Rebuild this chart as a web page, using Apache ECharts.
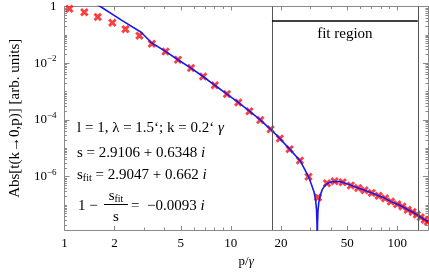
<!DOCTYPE html>
<html><head><meta charset="utf-8">
<style>html,body{margin:0;padding:0;background:#fff;}#c{width:429px;height:273px;}</style>
<script src="https://cdn.jsdelivr.net/npm/echarts@6/dist/echarts.min.js"></script>
</head><body><div id="c"></div><script>
// ---- data ----
const crossP = [1.07,1.316,1.585,1.94,2.326,2.822,3.35,4.05,4.81,5.76,6.81,8.01,9.47,11.08,12.93,15.02,17.33,19.68,22.54,26.0,29.27,33.4,37.8,42.0,47.0,52.6,58.2,63.6,70.3,77.3,84.5,91.6,100,107.4,115.5,123.6,131.1,138.4,146.1,152.5];
const crossV = [0.834,0.623,0.43,0.268,0.159,0.0937,0.0486,0.0259,0.0133,6.76e-3,3.4e-3,1.67e-3,8.2e-4,4.14e-4,2.03e-4,1.0e-4,4.68e-5,2.23e-5,9.35e-6,3.74e-6,1.0e-6,1.86e-7,5.9e-7,6.9e-7,6.4e-7,4.9e-7,3.98e-7,3.32e-7,2.68e-7,2.11e-7,1.72e-7,1.32e-7,1.07e-7,8.87e-8,6.84e-8,5.7e-8,4.6e-8,3.72e-8,3.03e-8,2.59e-8];
const lineP = [1.45,1.642,2.2,2.888,3.35,4.05,4.81,5.76,6.81,8.01,9.47,11.08,12.93,15.02,17.33,19.68,22.54,26.0,29.3,30.5,31.6,32.3,32.7,32.95,33.05,33.15,33.4,33.8,34.6,35.4,36.2,37.5,38.8,40.5,42.4,44.8,47.5,53.1,58.2,63.6,70.3,77.3,84.5,91.6,100,107.4,115.5,123.6,131.1,138.4,146.1,153.4];
const lineV = [1.5,1.0,0.331,0.1235,0.0518,0.0262,0.0133,6.76e-3,3.4e-3,1.67e-3,8.2e-4,4.14e-4,2.03e-4,1.0e-4,4.68e-5,2.23e-5,9.35e-6,3.74e-6,1.0e-6,5.3e-7,2.9e-7,1.5e-7,7e-8,2e-8,1e-11,2e-8,6.5e-8,1.3e-7,2.4e-7,3.5e-7,4.3e-7,5.4e-7,6.1e-7,6.6e-7,6.8e-7,6.7e-7,6.2e-7,4.9e-7,4.0e-7,3.32e-7,2.68e-7,2.11e-7,1.72e-7,1.32e-7,1.07e-7,8.87e-8,6.84e-8,5.7e-8,4.6e-8,3.72e-8,3.03e-8,2.59e-8];
const xTickLabels = [1,2,5,10,20,50,100];
const xMinorTicks = [3,4,6,7,8,9,30,40,60,70,80,90];
const yTickLabels = [1,1e-2,1e-4,1e-6];
const yDecades = [-8,-7,-6,-5,-4,-3,-2,-1];
const yMantissas = [1,2,3,4,5,6,7,8,9];
const fitRange = [17.65,132.8];
const fitBarLevel = 0.3076;
const xRange = [1,153];
const yRange = [Math.pow(10,-7.88),1];

// ---- chart ----
const FONT = 'Liberation Serif';
const AX = '#8a8a8a';
const L = Math.log10;
const yMinorLog = [];
yDecades.forEach(k => yMantissas.forEach(n => { const v = L(n) + k; if (v >= L(yRange[0]) && v <= 0 && !yTickLabels.map(L).some(t => Math.abs(t - v) < 1e-9)) yMinorLog.push(v); }));

function xOverlay(pos, ticks, len, labels, line) {
  return {type:'value', position:pos, gridIndex:0, min:L(xRange[0]), max:L(xRange[1]),
    axisLine:{show:line, onZero:false, lineStyle:{color:AX, width:1}},
    axisTick:{show:true, inside:true, length:len, customValues:ticks, lineStyle:{color:AX, width:1}},
    axisLabel: labels ? {show:true, customValues:ticks, margin:7, color:'#000', fontFamily:FONT, fontSize:13,
      formatter: v => String(Math.round(Math.pow(10, v)))} : {show:false},
    splitLine:{show:false}, minorTick:{show:false}, minorSplitLine:{show:false}};
}
function yOverlay(pos, ticks, len, labels, line) {
  return {type:'value', position:pos, gridIndex:0, min:L(yRange[0]), max:L(yRange[1]),
    axisLine:{show:line, onZero:false, lineStyle:{color:AX, width:1}},
    axisTick:{show:true, inside:true, length:len, customValues:ticks, lineStyle:{color:AX, width:1}},
    axisLabel: labels ? {show:true, customValues:ticks, margin:8, color:'#000', fontFamily:FONT, fontSize:13,
      formatter: v => { const e = Math.round(v); return e === 0 ? '1' : '{b|10}{s|−' + (-e) + '}'; },
      rich:{b:{fontFamily:FONT, fontSize:13, color:'#000'}, s:{fontFamily:FONT, fontSize:9, color:'#000', padding:[0,0,9,0]}}} : {show:false},
    splitLine:{show:false}, minorTick:{show:false}, minorSplitLine:{show:false}};
}
const xMajLog = xTickLabels.map(L), xMinLog = xMinorTicks.map(L), yMajLog = yTickLabels.map(L);

const CROSS = 'path://M0,2.4L2.4,0L5,2.6L7.6,0L10,2.4L7.4,5L10,7.6L7.6,10L5,7.4L2.4,10L0,7.6L2.6,5Z';
const FS = 15;
const rich = {
  n:{fontFamily:FONT, fontSize:FS, color:'#000'},
  i:{fontFamily:FONT, fontSize:FS, color:'#000', fontStyle:'italic'},
  sub:{fontFamily:FONT, fontSize:10, color:'#000', padding:[7,0,0,0]}
};
const axRich = {
  n:{fontFamily:FONT, fontSize:13, color:'#000'},
  i:{fontFamily:FONT, fontSize:13, color:'#000', fontStyle:'italic'}
};

const xA = Object.assign(xOverlay('bottom', xMajLog, 4, true, true), {
  name:'p/{i|γ}', nameLocation:'middle', nameGap:25,
  nameTextStyle:{fontFamily:FONT, fontSize:13, color:'#000', rich:axRich}});
const yA = Object.assign(yOverlay('left', yMajLog, 5, true, true), {
  name:'Abs[t(k→0,p)] [arb. units]', nameLocation:'middle', nameGap:39, nameRotate:90,
  nameTextStyle:{fontFamily:FONT, fontSize:15, color:'#000'}});

const option = {
  animation:false,
  backgroundColor:'#fff',
  grid:{left:57, right:1, top:6, bottom:36, containLabel:false},
  xAxis:[
    {type:'log', logBase:10, min:xRange[0], max:xRange[1], show:false, gridIndex:0, position:'bottom'},
    xA,
    xOverlay('bottom', xMinLog, 2.5, false, false),
    xOverlay('top', xMajLog, 4, false, true),
    xOverlay('top', xMinLog, 2.5, false, false)
  ],
  yAxis:[
    {type:'log', logBase:10, min:yRange[0], max:yRange[1], show:false, gridIndex:0, position:'left'},
    yA,
    yOverlay('left', yMinorLog, 2.5, false, false),
    yOverlay('right', yMajLog, 5, false, true),
    yOverlay('right', yMinorLog, 2.5, false, false)
  ],
  series:[
    {type:'scatter', xAxisIndex:0, yAxisIndex:0, z:3, clip:false,
     symbol:CROSS, symbolSize:8.5, itemStyle:{color:'#ff0f0f'},
     data: crossP.map((p,i) => [p, crossV[i]]),
     markLine:{silent:true, symbol:'none', animation:false,
       data:[
         {xAxis:fitRange[0], lineStyle:{color:'#555', width:1, type:'solid'}, label:{show:false}},
         {xAxis:fitRange[1], lineStyle:{color:'#555', width:1, type:'solid'}, label:{show:false}},
         [{coord:[fitRange[0], fitBarLevel], lineStyle:{color:'#000', width:1.5, type:'solid'},
           label:{show:true, position:'insideMiddleBottom', formatter:'fit region', distance:6,
             fontFamily:FONT, fontSize:15, color:'#000'}},
          {coord:[fitRange[1], fitBarLevel], lineStyle:{color:'#000', width:1.5, type:'solid'}}]
       ]}},
    {type:'line', xAxisIndex:0, yAxisIndex:0, z:4, clip:true, showSymbol:false, symbol:'none',
     lineStyle:{color:'#1a1ae8', width:1.6},
     data: lineP.map((p,i) => [p, lineV[i]])}
  ],
  graphic:[
    {type:'text', x:77, y:128, style:{text:'{n|l = 1, λ = 1.5‘; k = 0.2‘ }{i|γ}', rich:rich, verticalAlign:'middle', fontFamily:FONT, fontSize:FS}},
    {type:'text', x:77, y:153, style:{text:'{n|s = 2.9106 + 0.6348 }{i|i}', rich:rich, verticalAlign:'middle', fontFamily:FONT, fontSize:FS}},
    {type:'text', x:77, y:175, style:{text:'{n|s}{sub|fit}{n| = 2.9047 + 0.662 }{i|i}', rich:rich, verticalAlign:'middle', fontFamily:FONT, fontSize:FS}},
    {type:'text', x:78, y:206, style:{text:'{n|1 −}', rich:rich, verticalAlign:'middle', fontFamily:FONT, fontSize:FS}},
    {type:'text', x:116, y:196, style:{text:'{n|s}{sub|fit}', rich:rich, verticalAlign:'middle', align:'center', fontFamily:FONT, fontSize:FS}},
    {type:'line', shape:{x1:104, y1:204.5, x2:128, y2:204.5}, style:{stroke:'#000', lineWidth:1}},
    {type:'text', x:116, y:217, style:{text:'{n|s}', rich:rich, verticalAlign:'middle', align:'center', fontFamily:FONT, fontSize:FS}},
    {type:'text', x:131, y:206, style:{text:'{n|=  −0.0093 }{i|i}', rich:rich, verticalAlign:'middle', fontFamily:FONT, fontSize:FS}}
  ]
};
const chart = echarts.init(document.getElementById('c'), null, {renderer:'canvas'});
chart.setOption(option);
</script></body></html>
